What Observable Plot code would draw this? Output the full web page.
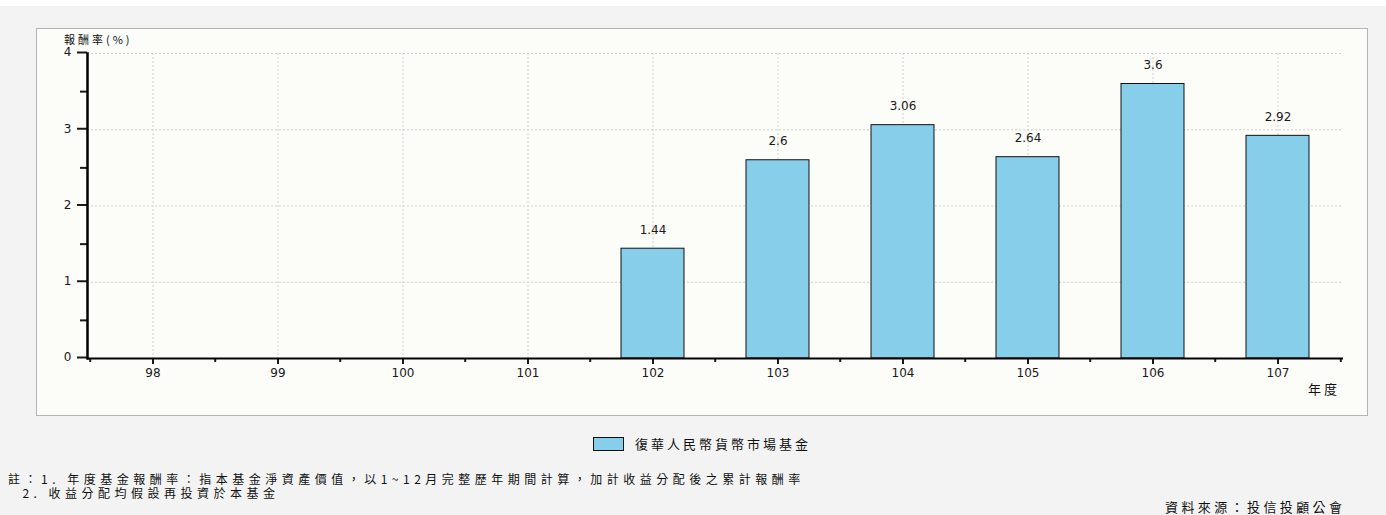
<!DOCTYPE html>
<html><head><meta charset="utf-8">
<script src="https://cdn.jsdelivr.net/npm/d3@7"></script>
<script src="https://cdn.jsdelivr.net/npm/@observablehq/plot@0.6"></script>
<style>
body{margin:0;background:#f3f3f3;width:1386px;height:515px;position:relative;overflow:hidden;font-family:"DejaVu Sans",sans-serif}
#topband{position:absolute;left:0;top:0;width:1386px;height:6px;background:#fff}
#panel{position:absolute;left:36px;top:28px;width:1330px;height:386px;border:1px solid #b4b4b4;background:#fcfcf9}
#chart{position:absolute;left:0;top:0}
.cjk{font-family:"Noto Sans CJK TC","Noto Sans CJK SC",sans-serif;color:#111;position:absolute;white-space:nowrap;line-height:14px}
#ylab{left:64px;top:33px;font-size:11px;line-height:12px;letter-spacing:3px}
#xlab{left:1308px;top:382px;font-size:13px;letter-spacing:3px}
#legend{position:absolute;left:593px;top:436px;height:16px;display:flex;align-items:center}
#legend .sw{width:29px;height:12px;background:#87ceeb;border:1px solid #111;margin-right:11px}
#legend .t{position:static;font-size:13px;letter-spacing:3px}
#notes{left:8px;top:472px;font-size:12px;line-height:14px;letter-spacing:4.5px;white-space:pre}
#source{left:1165px;top:500px;font-size:13px;letter-spacing:3.4px}
</style></head>
<body>
<div id="topband"></div>
<div id="panel"></div>
<div id="chart"></div>
<div class="cjk" id="ylab">報酬率(%)</div>
<div class="cjk" id="xlab">年度</div>
<div id="legend"><div class="sw"></div><div class="cjk t" id="legendText"></div></div>
<div class="cjk" id="notes"></div>
<div class="cjk" id="source"></div>
<script>
const years = ["98","99","100","101","102","103","104","105","106","107"];
const returns = [null,null,null,null,1.44,2.6,3.06,2.64,3.6,2.92];
const yMajorTicks = [0,1,2,3,4];
const yMinorTicks = [0.5,1.5,2.5,3.5];
const seriesName = "復華人民幣貨幣市場基金";
const notes = ["註：1. 年度基金報酬率：指本基金淨資產價值，以1~12月完整歷年期間計算，加計收益分配後之累計報酬率","2. 收益分配均假設再投資於本基金"];
const sourceText = "資料來源：投信投顧公會";

const data = years.map((y,i)=>({year:y, value:returns[i]})).filter(d=>d.value!=null);

const W = 1386, H = 415, ML = 87, MR = 43, MT = 53, MB = 57;
const step = (W-ML-MR)/years.length;

const chart = Plot.plot({
  width: W, height: H,
  marginLeft: ML, marginRight: MR, marginTop: MT, marginBottom: MB,
  style: {background:"transparent", fontFamily:"'DejaVu Sans',sans-serif", fontSize:"12px", color:"#1a1a1a", overflow:"visible"},
  x: {domain: years, paddingInner: 0.5, paddingOuter: 0.25, label: null},
  y: {domain: [0,4], label: null},
  marks: [
    Plot.gridX(years, {stroke:"#d0d0d0", strokeOpacity:1, strokeDasharray:"2,2"}),
    Plot.gridY([1,2,3,4], {stroke:"#d0d0d0", strokeOpacity:1, strokeDasharray:"2,2"}),
    Plot.barY(data, {x:"year", y:"value", fill:"#87ceeb", stroke:"#111", strokeWidth:1}),
    Plot.text(data, {x:"year", y:"value", text:d=>String(d.value), dy:-19, fill:"#1a1a1a", fontSize:12, style:{letterSpacing:"0.5px"}}),
    Plot.axisY(yMajorTicks, {tickSize:10, tickPadding:6, strokeWidth:2, dy:-1, fontSize:12, tickFormat:d=>String(d)}),
    Plot.axisY(yMinorTicks, {tickSize:7, text:null, strokeWidth:2}),
    Plot.axisX(years, {tickSize:6, tickPadding:4, strokeWidth:2, fontSize:12}),
    Plot.axisX(years, {tickSize:4, text:null, strokeWidth:2, dx:-step/2}),
    Plot.axisX(["107"], {tickSize:4, text:null, strokeWidth:2, dx:step/2}),
    Plot.ruleY([0], {stroke:"#000", strokeWidth:2}),
    Plot.frame({anchor:"left", stroke:"#000", strokeWidth:2.5})
  ]
});
document.getElementById("chart").append(chart);
document.getElementById("legendText").textContent = seriesName;
document.getElementById("notes").textContent = notes[0] + "\n  " + notes[1];
document.getElementById("source").textContent = sourceText;
</script>
</body></html>
